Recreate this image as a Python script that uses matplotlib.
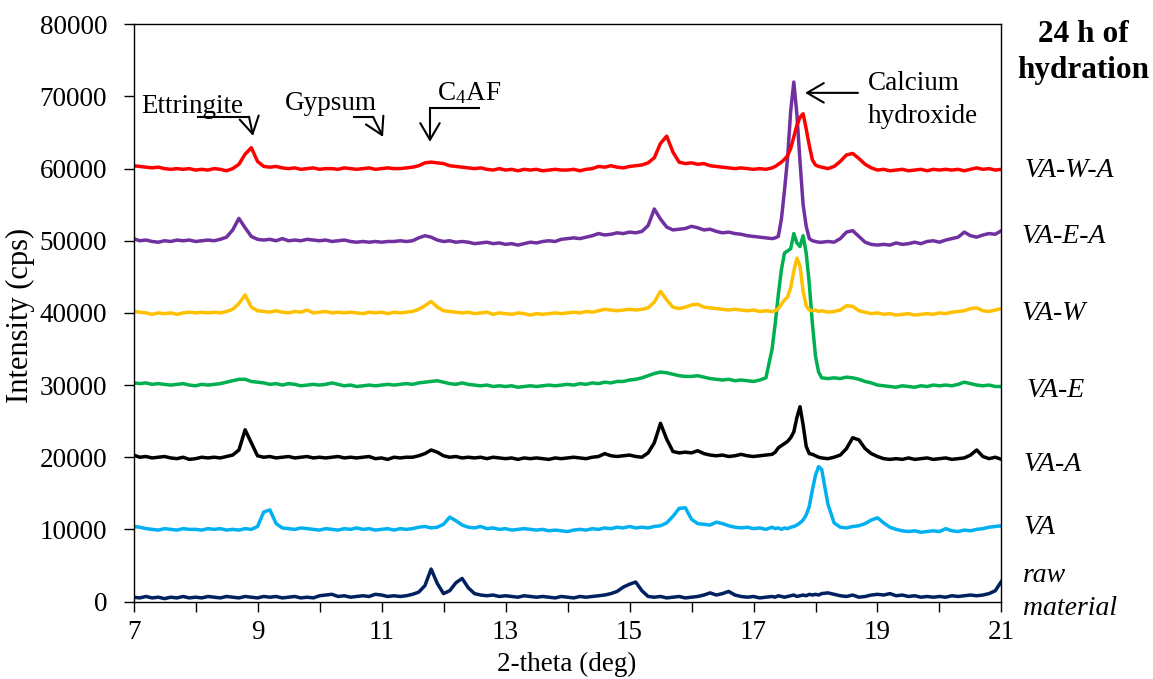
import numpy as np
import matplotlib
matplotlib.use("Agg")
import matplotlib.pyplot as plt

plt.rcParams['font.family'] = ['Liberation Serif', 'DejaVu Serif']
plt.rcParams['mathtext.fontset'] = 'custom'
plt.rcParams['mathtext.rm'] = 'Liberation Serif'
plt.rcParams['mathtext.it'] = 'Liberation Serif:italic'

# 2-theta scan grid (finer around the Ca(OH)2 reflection)
two_theta = np.concatenate([np.arange(70, 173) / 10,
                            np.arange(346, 362) / 20,
                            np.arange(181, 211) / 10])

# intensities (cps)
va_w_a = [60400, 60300, 60200, 60100, 60200, 60000, 59900, 60000, 59900, 60000,
          59800, 59900, 59800, 60000, 59900, 59700, 60000, 60600, 62000, 62900,
          61000, 60300, 60200, 60300, 60100, 60000, 60100, 59900, 60000, 60100,
          59900, 60000, 60000, 59900, 60100, 60000, 59900, 60000, 60100, 59900,
          60000, 60100, 60000, 60000, 60100, 60200, 60400, 60800, 60900, 60800,
          60700, 60400, 60300, 60200, 60100, 60000, 60100, 59900, 59800, 60000,
          59800, 59900, 59700, 59900, 59800, 59900, 59700, 59800, 59900, 59800,
          59800, 59900, 59700, 59900, 60000, 60300, 60200, 60400, 60200, 60100,
          60300, 60400, 60500, 60800, 61500, 63500, 64500, 62300, 60900, 60700,
          60800, 60600, 60700, 60400, 60300, 60200, 60100, 60000, 60100, 60000,
          59900, 60000, 59900,
          60100, 60300, 60600, 60900, 61300, 61800, 62800, 64400, 66000, 67100,
          67600, 65500, 63200, 61200, 60500, 60300,
          60200, 60000, 60300, 61000, 61900, 62100, 61400, 60600, 60100,
          59800, 59900, 59700, 59800, 59900, 59700, 59800, 59900, 59700, 59900,
          59800, 59900, 59800, 59900, 59700, 59900, 60100, 59900, 60000, 59800, 59900]

va_e_a = [50300, 50000, 50100, 49900, 49800, 50000, 49900, 50100, 50000, 50100,
          49900, 50000, 50100, 50000, 50200, 50500, 51500, 53100, 51800, 50600,
          50200, 50100, 50200, 50000, 50300, 50000, 50100, 50000, 50200, 50100,
          50000, 50100, 49900, 50000, 50100, 49900, 49800, 49900, 49800, 49900,
          49800, 49900, 49900, 50000, 49900, 50000, 50400, 50700, 50500, 50100,
          49900, 50000, 49800, 49900, 49800, 49600, 49700, 49800, 49600, 49700,
          49500, 49600, 49400, 49600, 49800, 49700, 49900, 50000, 49900, 50200,
          50300, 50400, 50300, 50500, 50700, 51000, 50800, 50900, 51100, 51000,
          51200, 51100, 51300, 52100, 54400, 53000, 51900, 51500, 51600, 51700,
          52000, 51800, 51500, 51600, 51300, 51100, 51200, 51000, 50900, 50700,
          50600, 50500, 50400,
          50300, 50400, 50600, 53000, 57000, 61500, 68000, 72000, 67500, 61000,
          55000, 52000, 50300, 50000, 49900, 49800,
          49800, 49900, 49800, 50300, 51200, 51400, 50600, 49800, 49500,
          49400, 49500, 49400, 49700, 49500, 49600, 49800, 49600, 49900, 50000,
          49800, 50100, 50300, 50500, 51200, 50700, 50500, 50800, 51000, 50900, 51400]

va_w = [40200, 40100, 40000, 39800, 40000, 39900, 40000, 39800, 40000, 40100,
        40000, 40100, 40000, 40100, 40000, 40200, 40500, 41300, 42500, 40800,
        40300, 40200, 40100, 40300, 40100, 40000, 40200, 40100, 40400, 40000,
        40100, 40200, 40000, 40100, 40000, 40100, 40000, 39900, 40100, 40000,
        40100, 39900, 40100, 40000, 40100, 40200, 40500, 41000, 41600, 40800,
        40300, 40200, 40100, 40000, 40100, 39900, 40000, 40100, 39800, 40000,
        39900, 39800, 40000, 39900, 39700, 39900, 39800, 39900, 40000, 39900,
        40000, 40100, 40000, 40200, 40100, 40300, 40500, 40400, 40300, 40400,
        40500, 40400, 40500, 40700, 41500, 43000, 41800, 40800, 40600, 40800,
        41100, 41200, 40800, 40700, 40600, 40500, 40400, 40500, 40400, 40300,
        40400, 40200, 40300,
        40200, 40300, 40600, 41200, 41800, 42200, 43500, 45800, 47600, 46500,
        43000, 41000, 40400, 40300, 40400, 40200,
        40300, 40100, 40200, 40400, 41000, 40900, 40300, 40100, 39900,
        40000, 39800, 39900, 39700, 39800, 39900, 39700, 39800, 39900, 39800,
        40000, 39900, 40100, 40200, 40300, 40600, 40700, 40300, 40200, 40400, 40600]

va_e = [30300, 30200, 30300, 30100, 30200, 30100, 30000, 30100, 30200, 30000,
        29900, 30100, 30000, 30100, 30200, 30400, 30600, 30800, 30800, 30500,
        30400, 30300, 30100, 30200, 30000, 30200, 30100, 29900, 30000, 30100,
        30000, 30100, 30300, 30100, 29900, 30000, 29800, 29900, 30000, 29900,
        30000, 30100, 30000, 30100, 30200, 30100, 30300, 30400, 30500, 30600,
        30400, 30200, 30100, 30300, 30100, 30000, 29900, 30000, 29800, 29900,
        29800, 29900, 29700, 29800, 29900, 29800, 29900, 30000, 29900, 30000,
        30100, 30000, 30200, 30100, 30300, 30200, 30400, 30300, 30500, 30500,
        30700, 30800, 31000, 31300, 31600, 31800, 31700, 31500, 31300, 31200,
        31200, 31300, 31100, 30900, 30800, 30700, 30800, 30600, 30700, 30600,
        30500, 30700, 31000,
        35000, 38500, 42500, 46000, 48300, 48600, 48900, 51000, 49700, 49200,
        50700, 48300, 44000, 38500, 34000, 31800,
        31000, 30900, 31000, 30900, 31100, 31000, 30800, 30500, 30300,
        30000, 29900, 29800, 29700, 29900, 29800, 29700, 29900, 29800, 30000,
        29900, 30000, 29900, 30100, 30400, 30200, 30000, 29900, 30000, 29800, 29800]

va_a = [20300, 20000, 20100, 19900, 20000, 20100, 19900, 19800, 20000, 19700,
        19800, 20000, 19900, 20000, 19900, 20100, 20300, 21000, 23800, 22000,
        20200, 20000, 20100, 19900, 20000, 20100, 19900, 20000, 20100, 19900,
        20000, 19900, 20000, 20100, 19900, 20000, 19900, 20000, 20100, 19800,
        19900, 19700, 20000, 19900, 20000, 20000, 20200, 20500, 21000, 20700,
        20200, 20000, 20100, 19900, 20000, 19900, 20000, 19800, 20000, 19900,
        19800, 19900, 19700, 19900, 19800, 19900, 19800, 19700, 19900, 19800,
        19900, 20000, 19900, 19800, 20000, 20100, 20500, 20200, 20100, 20200,
        20300, 20100, 20000, 20600, 22000, 24700, 22500, 20800, 20600, 20700,
        20600, 20900, 20500, 20300, 20200, 20300, 20100, 20200, 20400, 20200,
        20100, 20200, 20300,
        20400, 20700, 21300, 21600, 21900, 22200, 22700, 23500, 25500, 27000,
        24500, 21500, 20500, 20400, 20200, 20000,
        19900, 19800, 20000, 20300, 21200, 22700, 22400, 21200, 20500,
        20100, 19800, 19700, 19800, 19700, 19900, 19700, 19800, 19900, 19700,
        19800, 19900, 19700, 19800, 19900, 20300, 21000, 20100, 19800, 20000, 19700]

va = [10400, 10300, 10100, 10000, 9900, 10100, 10000, 9900, 10100, 10000,
      10000, 9900, 10100, 10000, 10100, 9900, 10000, 9900, 10100, 10000,
      10400, 12400, 12700, 10800, 10200, 10100, 10000, 10200, 10100, 10000,
      9900, 10100, 10000, 9900, 10100, 10000, 10200, 10000, 10100, 9900,
      10000, 10100, 9900, 10100, 10000, 10100, 10300, 10400, 10200, 10300,
      10700, 11700, 11200, 10600, 10300, 10200, 10400, 10100, 10200, 10000,
      10100, 9900, 10000, 10100, 10000, 9900, 10000, 9800, 9900, 9800,
      9700, 9900, 10000, 9900, 10100, 10000, 10200, 10100, 10300, 10200,
      10400, 10200, 10300, 10200, 10400, 10500, 10900, 11800, 12900, 13000,
      11400, 10800, 10700, 10600, 11000, 10800, 10500, 10300, 10200, 10300,
      10100, 10200, 10000,
      10300, 10100, 10200, 10000, 10200, 10100, 10300, 10400, 10600, 10900,
      11300, 12000, 13200, 15500, 17500, 18700,
      18300, 13500, 10900, 10300, 10200, 10400, 10500, 10800, 11300,
      11600, 10900, 10300, 10000, 9800, 9700, 9800, 9600, 9700, 9800,
      9700, 10100, 9800, 9700, 9900, 9800, 10000, 10100, 10300, 10400, 10500]

raw = [600, 500, 700, 500, 600, 400, 600, 500, 700, 500,
       600, 500, 700, 600, 500, 700, 600, 500, 700, 600,
       500, 700, 600, 700, 500, 600, 700, 500, 600, 500,
       800, 900, 1000, 700, 800, 600, 700, 800, 700, 1000,
       900, 700, 800, 700, 800, 1000, 1300, 2200, 4500, 2500,
       1100, 1500, 2600, 3200, 1900, 1100, 900, 800, 900, 700,
       800, 700, 600, 800, 700, 600, 700, 600, 500, 700,
       600, 500, 700, 600, 700, 800, 900, 1100, 1400, 2000,
       2400, 2700, 1500, 700, 600, 700, 500, 600, 700, 500,
       600, 700, 900, 1200, 900, 1100, 1400, 900, 700, 600,
       700, 500, 600,
       700, 600, 800, 700, 600, 700, 800, 900, 700, 800,
       900, 800, 1000, 900, 1000, 900,
       1100, 1200, 1000, 800, 700, 900, 600, 700, 900,
       1000, 900, 1100, 800, 900, 700, 800, 600, 700, 600,
       700, 600, 800, 700, 800, 900, 800, 900, 1100, 1500, 2800]

series = [raw, va, va_a, va_e, va_w, va_e_a, va_w_a]
colors = ['#002060', '#00B0F0', '#000000', '#00B050', '#FFC000', '#7030A0', '#FF0000']
labels = ['VA-W-A', 'VA-E-A', 'VA-W', 'VA-E', 'VA-A', 'VA']

fig = plt.figure(figsize=(11.53, 6.79), dpi=100)
ax = fig.add_axes([0.1158, 0.1141, 0.7528, 0.8501])

for ys, c in zip(series, colors):
    ax.plot(two_theta, ys, color=c, lw=2.5, solid_joinstyle='round')

ax.set_xlim(7, 21)
ax.set_ylim(0, 80000)
ax.set_xticks(np.arange(7, 22, 2))
ax.set_xticks(np.arange(8, 21, 2), minor=True)
ax.set_yticks(np.arange(0, 80001, 10000))
ax.tick_params(axis='both', which='both', direction='out', length=7, width=1,
               labelsize=19.5, colors='black')
ax.tick_params(axis='y', pad=12)
ax.tick_params(axis='x', pad=6)
ax.tick_params(top=False, right=False)
for sp in ax.spines.values():
    sp.set_linewidth(1)
    sp.set_color('black')

ax.set_xlabel('2-theta (deg)', fontsize=19.5)
ax.set_ylabel('Intensity (cps)', fontsize=22)
ax.xaxis.set_label_coords(0.4994, -0.088)
ax.yaxis.set_label_coords(-0.114, 0.495)

# peak annotations
fs = 19.5
arrow = dict(arrowstyle='->,head_length=0.6,head_width=0.35', lw=1.5,
             color='black', mutation_scale=20, shrinkA=0, shrinkB=0)
ax.text(7.12, 67660, 'Ettringite', fontsize=fs)
ax.plot([8.04, 8.863], [67180, 67180], color='black', lw=1.5)
ax.annotate('', xy=(8.928, 64540), xytext=(8.863, 67180), arrowprops=arrow)

ax.text(9.444, 68150, 'Gypsum', fontsize=fs)
ax.plot([10.556, 10.863], [67180, 67180], color='black', lw=1.5)
ax.annotate('', xy=(11.024, 64400), xytext=(10.863, 67180), arrowprops=arrow)

ax.text(11.895, 69530, r'C$_{\mathregular{4}}$AF', fontsize=fs)
ax.plot([11.782, 12.573], [68420, 68420], color='black', lw=1.5)
ax.annotate('', xy=(11.782, 63710), xytext=(11.782, 68420), arrowprops=arrow)

ax.text(18.847, 70830, 'Calcium', fontsize=fs)
ax.text(18.847, 66300, 'hydroxide', fontsize=fs)
ax.annotate('', xy=(17.831, 70500), xytext=(18.685, 70500), arrowprops=arrow)

# sample labels on the right
fig.text(0.9393, 0.9386, '24 h of', fontsize=22.5, fontweight='bold', ha='center')
fig.text(0.9393, 0.8847, 'hydration', fontsize=22.5, fontweight='bold', ha='center')
label_pos = [(0.889, 0.7398), (0.8861, 0.6417), (0.8864, 0.5287),
             (0.8907, 0.4153), (0.8873, 0.3068), (0.8873, 0.2135)]
for lab, (lx, ly) in zip(labels, label_pos):
    fig.text(lx, ly, lab, fontsize=20, style='italic')
fig.text(0.887, 0.1433, 'raw', fontsize=20, style='italic')
fig.text(0.887, 0.0943, 'material', fontsize=20, style='italic')

fig.savefig('out.png', dpi=100)
